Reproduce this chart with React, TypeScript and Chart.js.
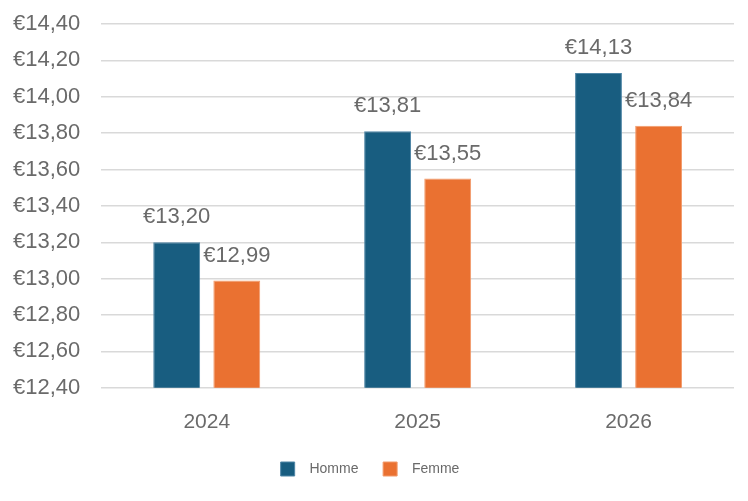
import React, { useEffect, useRef } from "react";
import { Chart, registerables } from "chart.js";

Chart.register(...registerables);

const categories = ["2024", "2025", "2026"];
const hommeValues = [13.2, 13.81, 14.13];
const femmeValues = [12.99, 13.55, 13.84];
const seriesNames = ["Homme", "Femme"];

const fmt = (v: number) => "€" + v.toFixed(2).replace(".", ",");
const FONT = '"Liberation Sans", Arial, sans-serif';
const TEXT = "#6A6A6A";

const labelPlugin = {
  id: "barLabels",
  afterLayout(chart: any) {
    if (chart.legend) {
      chart.legend.left += 7;
      chart.legend.right += 7;
    }
  },
  afterDatasetsDraw(chart: any) {
    const ctx = chart.ctx;
    ctx.save();
    ctx.font = "22px " + FONT;
    ctx.fillStyle = TEXT;
    ctx.textAlign = "center";
    ctx.textBaseline = "middle";
    chart.data.datasets.forEach((ds: any, i: number) => {
      const meta = chart.getDatasetMeta(i);
      meta.data.forEach((bar: any, j: number) => {
        ctx.fillText(fmt(ds.data[j]), bar.x, bar.y - 25);
      });
    });
    ctx.restore();
  },
};

export default function App() {
  const ref = useRef<HTMLCanvasElement>(null);
  useEffect(() => {
    document.body.style.margin = "0";
    const chart = new Chart(ref.current!, {
      type: "bar",
      data: {
        labels: categories,
        datasets: [
          {
            label: seriesNames[0],
            data: hommeValues,
            backgroundColor: "#185D80",
            borderColor: "#4F86A6",
            borderWidth: 1,
            categoryPercentage: 0.57,
            barPercentage: 0.78,
          },
          {
            label: seriesNames[1],
            data: femmeValues,
            backgroundColor: "#EA7131",
            borderColor: "#F29A6A",
            borderWidth: 1,
            categoryPercentage: 0.57,
            barPercentage: 0.78,
          },
        ],
      },
      options: {
        animation: false,
        responsive: false,
        layout: { padding: { top: 24, right: 14, left: -8, bottom: 15 } },
        plugins: {
          legend: {
            position: "bottom",
            labels: {
              boxWidth: 14,
              boxHeight: 14,
              padding: 13,
              color: TEXT,
              font: { size: 14, family: FONT },
              generateLabels: (chart: any) => {
                const items = Chart.defaults.plugins.legend.labels.generateLabels(chart);
                return items.map((it: any, i: number) => ({
                  ...it,
                  text: "  " + it.text + (i === 0 ? "   " : ""),
                }));
              },
            },
          },
          tooltip: { enabled: false },
        },
        scales: {
          x: {
            grid: { display: false },
            border: { display: false },
            ticks: {
              color: TEXT,
              padding: 14,
              font: { size: 21, family: FONT },
            },
          },
          y: {
            min: 12.4,
            max: 14.4,
            border: { display: false },
            grid: { color: "#D9D9D9", lineWidth: 1.5, drawTicks: false },
            afterFit: (scale: any) => {
              scale.paddingTop = 0;
            },
            ticks: {
              stepSize: 0.2,
              padding: 21,
              color: TEXT,
              font: { size: 22, family: FONT },
              callback: (v: any) => fmt(Number(v)),
            },
          },
        },
      },
      plugins: [labelPlugin],
    });
    return () => chart.destroy();
  }, []);
  return (
    <div style={{ width: 748, height: 501 }}>
      <canvas ref={ref} width={748} height={501} style={{ width: 748, height: 501 }} />
    </div>
  );
}
